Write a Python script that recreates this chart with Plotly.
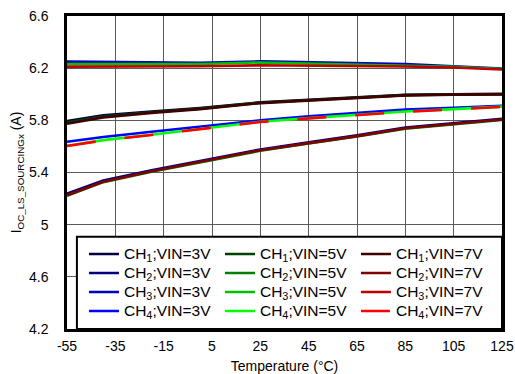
import plotly.graph_objects as go

temps = [-55, -40, -20, 0, 25, 45, 65, 85, 105, 125]

ch1_3v = [5.795, 5.838, 5.868, 5.895, 5.938, 5.958, 5.977, 5.995, 6.000, 6.003]
ch1_5v = [5.785, 5.830, 5.862, 5.890, 5.935, 5.955, 5.975, 5.993, 5.998, 6.000]
ch1_7v = [5.774, 5.822, 5.857, 5.886, 5.932, 5.953, 5.973, 5.991, 5.997, 5.999]

ch2_3v = [5.238, 5.339, 5.418, 5.488, 5.577, 5.631, 5.685, 5.745, 5.780, 5.811]
ch2_5v = [5.222, 5.326, 5.406, 5.477, 5.567, 5.622, 5.676, 5.736, 5.772, 5.803]
ch2_7v = [5.226, 5.329, 5.410, 5.481, 5.571, 5.625, 5.679, 5.739, 5.775, 5.806]

ch3_3v = [6.250, 6.247, 6.243, 6.242, 6.252, 6.246, 6.240, 6.232, 6.215, 6.198]
ch3_5v = [6.232, 6.231, 6.230, 6.232, 6.244, 6.236, 6.230, 6.222, 6.210, 6.194]
ch3_7v = [6.212, 6.212, 6.213, 6.215, 6.222, 6.220, 6.218, 6.213, 6.205, 6.190]

ch4_3v = [5.636, 5.672, 5.712, 5.752, 5.800, 5.830, 5.858, 5.882, 5.897, 5.912]
ch4_5v = [5.605, 5.648, 5.690, 5.734, 5.789, 5.817, 5.845, 5.868, 5.886, 5.905]
ch4_7v = [5.603, 5.646, 5.688, 5.732, 5.787, 5.815, 5.843, 5.866, 5.884, 5.903]

x_ticks = [-55, -35, -15, 5, 25, 45, 65, 85, 105, 125]
x_tick_text = ["-55", "-35", "-15", "5", "25", "45", "65", "85", "105", "125"]
y_ticks = [4.2, 4.6, 5.0, 5.4, 5.8, 6.2, 6.6]
y_tick_text = ["4.2", "4.6", "5", "5.4", "5.8", "6.2", "6.6"]

series = [
    ("CH<sub>1</sub>;VIN=3V", ch1_3v, "#000040", "solid"),
    ("CH<sub>1</sub>;VIN=5V", ch1_5v, "#004000", "solid"),
    ("CH<sub>1</sub>;VIN=7V", ch1_7v, "#400000", "solid"),
    ("CH<sub>2</sub>;VIN=3V", ch2_3v, "#000080", "solid"),
    ("CH<sub>2</sub>;VIN=5V", ch2_5v, "#008000", "solid"),
    ("CH<sub>2</sub>;VIN=7V", ch2_7v, "#800000", "solid"),
    ("CH<sub>3</sub>;VIN=3V", ch3_3v, "#0000C0", "solid"),
    ("CH<sub>3</sub>;VIN=5V", ch3_5v, "#00C000", "solid"),
    ("CH<sub>3</sub>;VIN=7V", ch3_7v, "#C00000", "solid"),
    ("CH<sub>4</sub>;VIN=3V", ch4_3v, "#0000FF", "solid"),
    ("CH<sub>4</sub>;VIN=5V", ch4_5v, "#00FF00", "solid"),
    ("CH<sub>4</sub>;VIN=7V", ch4_7v, "#FF0000", "29px,29px"),
]

fig = go.Figure()
for name, vals, color, dash in series:
    fig.add_trace(go.Scatter(
        x=temps, y=vals, name='<span style="font-size:15.5px">' + name + '</span>',
        mode="lines",
        line=dict(color=color, width=2.6, dash=dash),
    ))

font_family = "Arial, Liberation Sans, sans-serif"

fig.add_shape(
    type="rect", xref="x", yref="y",
    x0=-50.9, x1=125, y0=4.2, y1=4.908,
    fillcolor="white", line=dict(color="black", width=2), layer="above",
)

fig.update_layout(
    width=515, height=374,
    margin=dict(l=67, r=13, t=16, b=45, autoexpand=False),
    paper_bgcolor="white", plot_bgcolor="white",
    font=dict(family=font_family, size=14, color="black"),
    showlegend=True,
    legend=dict(
        orientation="h",
        x=0.039, y=0.286, xanchor="left", yanchor="top",
        bgcolor="rgba(0,0,0,0)", borderwidth=0,
        font=dict(family=font_family, size=12, color="black"),
        entrywidth=91, entrywidthmode="pixels",
        tracegroupgap=0,
    ),
    xaxis=dict(
        range=[-55, 125], tickvals=x_ticks, ticktext=x_tick_text,
        showgrid=True, gridcolor="#5a5a5a", gridwidth=1,
        showline=True, linecolor="black", linewidth=2.5, mirror=True,
        ticks="", zeroline=False, ticklabelstandoff=2,
        title=dict(text="Temperature (°C)", font=dict(size=14), standoff=9),
    ),
    yaxis=dict(
        range=[4.2, 6.6], tickvals=y_ticks, ticktext=y_tick_text,
        showgrid=True, gridcolor="#5a5a5a", gridwidth=1,
        showline=True, linecolor="black", linewidth=2.5, mirror=True,
        ticks="", zeroline=False, ticklabelstandoff=13,
        title=dict(text="I<sub>OC_LS_SOURCINGx</sub> (A)", font=dict(size=14), standoff=5),
    ),
)

fig.write_html(
    "out.html",
    config={"displayModeBar": False},
    post_script="document.body.style.margin='0px';document.body.style.overflow='hidden';",
)
